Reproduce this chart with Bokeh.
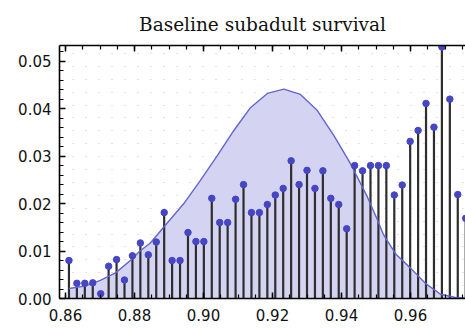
from bokeh.plotting import figure
from bokeh.models import (SingleIntervalTicker, LinearAxis, Range1d, ColumnDataSource,
                          PrintfTickFormatter, CustomJSTickFormatter)
from bokeh.embed import file_html
from bokeh.resources import INLINE

# --- data ---
stem_x = [0.8610, 0.8633, 0.8656, 0.8679, 0.8702, 0.8725, 0.8748, 0.8771, 0.8794, 0.8817,
          0.8840, 0.8863, 0.8886, 0.8909, 0.8932, 0.8955, 0.8978, 0.9001, 0.9024, 0.9047,
          0.9070, 0.9093, 0.9116, 0.9139, 0.9162, 0.9185, 0.9208, 0.9231, 0.9254, 0.9277,
          0.9300, 0.9323, 0.9346, 0.9369, 0.9392, 0.9415, 0.9438, 0.9461, 0.9484, 0.9507,
          0.9530, 0.9553, 0.9576, 0.9599, 0.9622, 0.9645, 0.9668, 0.9691, 0.9714, 0.9737,
          0.9760]
stem_y = [0.0080, 0.0032, 0.0032, 0.0033, 0.0010, 0.0068, 0.0082, 0.0039, 0.0090, 0.0117,
          0.0092, 0.0119, 0.0181, 0.0080, 0.0080, 0.0139, 0.0120, 0.0120, 0.0211, 0.0160,
          0.0160, 0.0209, 0.0240, 0.0181, 0.0181, 0.0198, 0.0218, 0.0232, 0.0290, 0.0240,
          0.0270, 0.0232, 0.0269, 0.0211, 0.0198, 0.0147, 0.0280, 0.0269, 0.0280, 0.0280,
          0.0280, 0.0218, 0.0239, 0.0331, 0.0354, 0.0411, 0.0361, 0.0530, 0.0420, 0.0219,
          0.0169]

curve_x = [0.8610, 0.8656, 0.8701, 0.8745, 0.8788, 0.8814, 0.8846, 0.8890, 0.8943, 0.8991,
           0.9040, 0.9088, 0.9136, 0.9185, 0.9233, 0.9281, 0.9330, 0.9378, 0.9426, 0.9475,
           0.9504, 0.9522, 0.9557, 0.9600, 0.9643, 0.9687, 0.9730, 0.9760]
curve_y = [0.0021, 0.0026, 0.0038, 0.0054, 0.0080, 0.0099, 0.0117, 0.0155, 0.0200, 0.0249,
           0.0301, 0.0354, 0.0402, 0.0432, 0.0441, 0.0430, 0.0396, 0.0343, 0.0284, 0.0214,
           0.0166, 0.0134, 0.0094, 0.0064, 0.0032, 0.0009, 0.0002, 0.0001]

title_text = "Baseline subadult survival"

p = figure(width=465, height=328, output_backend="svg", toolbar_location=None,
           x_range=Range1d(0.85826, 0.97594), y_range=Range1d(0.0, 0.0533),
           min_border_left=59, min_border_right=0, min_border_top=0, min_border_bottom=30,
           title=title_text)
p.outline_line_color = None
p.background_fill_color = "white"
p.border_fill_color = "white"

p.title.align = "center"
p.title.text_font = "DejaVu Serif"
p.title.text_font_size = "18.5px"
p.title.text_font_style = "normal"
p.title.text_color = "#111111"
p.title.standoff = 22

# dotted background texture
p.xgrid.visible = False
p.ygrid.ticker = SingleIntervalTicker(interval=0.002717)
p.ygrid.grid_line_color = "#c4c4c4"
p.ygrid.grid_line_dash = "1 12"
p.ygrid.grid_line_width = 1

xt = SingleIntervalTicker(interval=0.02, num_minor_ticks=4)
yt = SingleIntervalTicker(interval=0.01, num_minor_ticks=5)
p.xaxis.ticker = xt
p.yaxis.ticker = yt
p.xaxis.formatter = PrintfTickFormatter(format="%.2f")
p.yaxis.formatter = PrintfTickFormatter(format="%.2f")

for ax in (p.xaxis[0], p.yaxis[0]):
    ax.axis_line_width = 1.6
    ax.axis_line_color = "black"
    ax.major_tick_in = 6
    ax.major_tick_out = 0
    ax.minor_tick_in = 4
    ax.minor_tick_out = 0
    ax.major_tick_line_width = 1.5
    ax.minor_tick_line_width = 1.2
    ax.major_label_text_font = "DejaVu Sans"
    ax.major_label_text_font_size = "15px"
    ax.major_label_text_color = "#111111"
p.xaxis.major_label_standoff = 10
p.yaxis.major_label_standoff = 8

top = LinearAxis(ticker=SingleIntervalTicker(interval=0.02, num_minor_ticks=4),
                 formatter=CustomJSTickFormatter(code="return ''"))
top.axis_line_width = 1.6
top.major_tick_in = 6
top.major_tick_out = 0
top.minor_tick_in = 4
top.minor_tick_out = 0
top.major_tick_line_width = 1.5
top.minor_tick_line_width = 1.2
top.major_label_standoff = 6
p.add_layout(top, "above")

# density curve
p.varea(x=curve_x, y1=[0.0] * len(curve_x), y2=curve_y, fill_color="#d4d4f2", fill_alpha=1.0)

# stems
src = ColumnDataSource(dict(x=stem_x, y=stem_y, y0=[0.0] * len(stem_x)))
p.segment(x0="x", y0="y0", x1="x", y1="y", source=src, line_color="#2e2e2e", line_width=2.2)

p.line(x=curve_x, y=curve_y, line_color="#6464d0", line_width=1.4)

p.scatter(x="x", y="y", source=src, size=6.5, fill_color="#4646c4", line_color="#4646c4")

open("out.html", "w").write(file_html(p, INLINE))
